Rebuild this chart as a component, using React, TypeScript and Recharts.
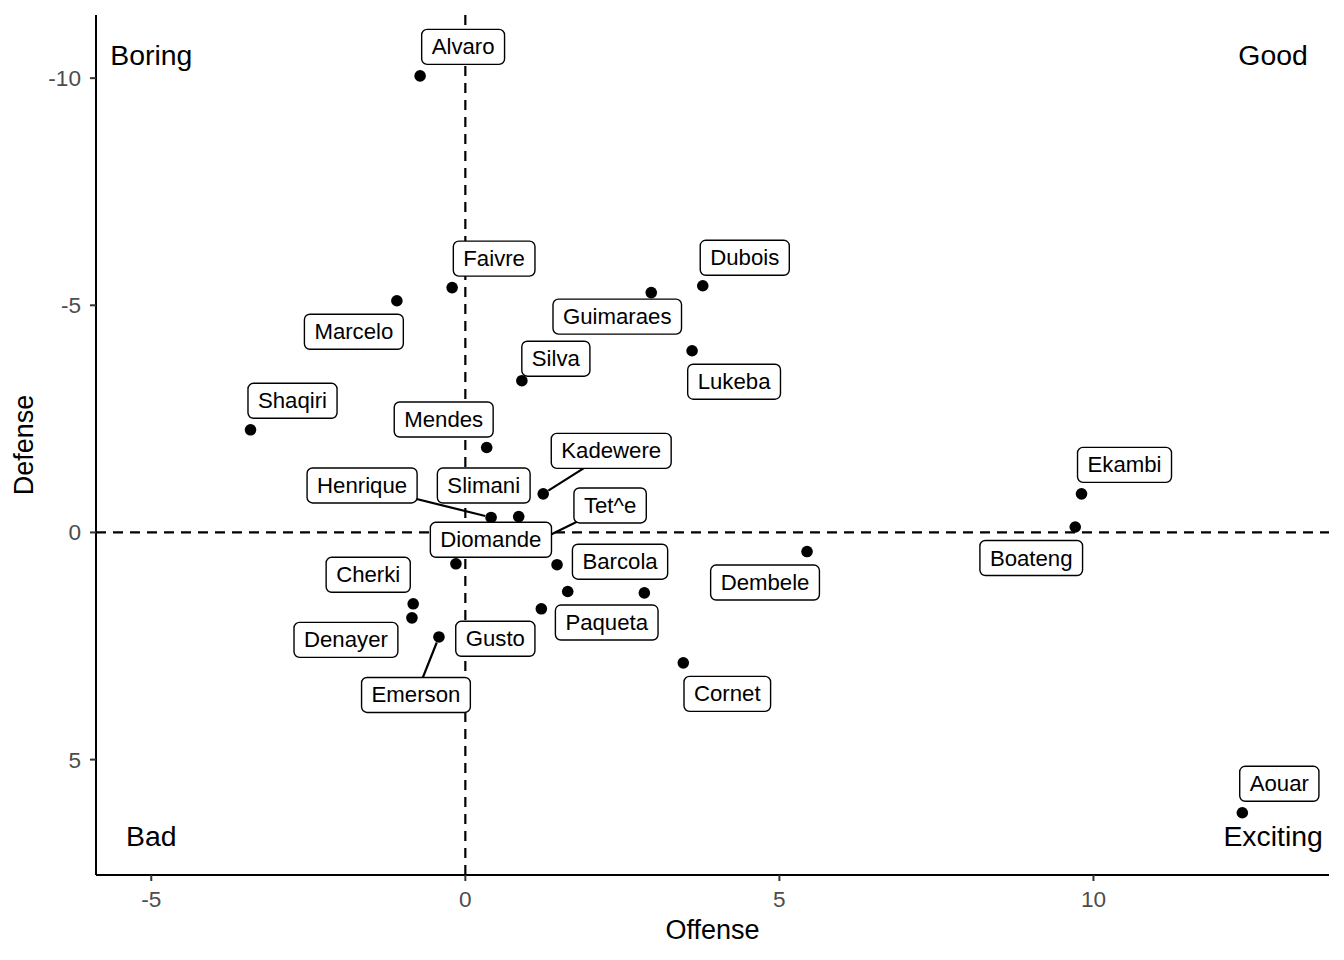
import React from "react";
import { ScatterChart, Scatter, XAxis, YAxis, ReferenceLine } from "recharts";

// players ("" = point whose label was dropped)
const players = [
  "Alvaro", "Faivre", "Marcelo", "Dubois", "Guimaraes", "Lukeba", "Silva",
  "Shaqiri", "Mendes", "Kadewere", "Henrique", "Slimani", "Tet^e", "Diomande",
  "Barcola", "Paqueta", "", "Gusto", "Cherki", "Denayer", "Emerson", "Cornet",
  "Dembele", "Ekambi", "Boateng", "Aouar",
];
const offense = [
  -0.72, -0.21, -1.09, 3.78, 2.96, 3.61, 0.9,
  -3.42, 0.34, 1.24, 0.41, 0.85, 1.27, -0.15,
  1.46, 1.63, 2.85, 1.21, -0.83, -0.85, -0.42, 3.47,
  5.44, 9.81, 9.71, 12.37,
];
const defense = [
  -10.05, -5.39, -5.1, -5.43, -5.28, -4.0, -3.34,
  -2.26, -1.87, -0.85, -0.33, -0.35, 0.11, 0.69,
  0.71, 1.3, 1.33, 1.68, 1.57, 1.88, 2.3, 2.87,
  0.42, -0.85, -0.12, 6.17,
];

// repelled label placement (pixels from the point) and whether a leader segment is drawn
const labelDx = [43, 42, -43, 42, -34, 42, 34, 42, -43, 68, -129, -35, 65, 35, 63, 39, 0, -46, -45, -66, -23, 44, -42, 43, -44, 37];
const labelDy = [-29, -29, 31, -28, 24, 31, -22, -29, -28, -43, -32, -31, -32, -24, -3, 31, 0, 30, -29, 22, 58, 31, 31, -29, 31, -29];
const segment = [0, 0, 0, 0, 0, 0, 0, 0, 0, 1, 1, 0, 1, 0, 0, 0, 0, 0, 0, 0, 1, 0, 0, 0, 0, 0];

const quadrants = ["Boring", "Good", "Bad", "Exciting"];
const quadX = [-5, 12.86, -5, 12.86];
const quadY = [-10.5, -10.5, 6.68, 6.68];

const xTicks = [-5, 0, 5, 10];
const yTicks = [-10, -5, 0, 5];

const FONT = "'Liberation Sans', Arial, Helvetica, sans-serif";
const LABEL_SIZE = 22.2;

const data = players.map((name, i) => ({
  name,
  x: offense[i],
  y: defense[i],
  dx: labelDx[i],
  dy: labelDy[i],
  seg: segment[i] === 1,
}));
const quadData = quadrants.map((text, i) => ({ text, x: quadX[i], y: quadY[i] }));

let ctx: CanvasRenderingContext2D | null = null;
function measure(s: string) {
  if (!ctx) ctx = document.createElement("canvas").getContext("2d");
  if (!ctx) return s.length * 11;
  ctx.font = `${LABEL_SIZE}px ${FONT}`;
  return ctx.measureText(s).width;
}

const Dot = (props: any) => <circle cx={props.cx} cy={props.cy} r={5.8} fill="#000" />;

const Segment = (props: any) => {
  const { cx, cy, payload } = props;
  if (!payload.name || !payload.seg) return <g />;
  const len = Math.hypot(payload.dx, payload.dy);
  const ux = payload.dx / len;
  const uy = payload.dy / len;
  return (
    <line
      x1={cx + ux * 6}
      y1={cy + uy * 6}
      x2={cx + payload.dx}
      y2={cy + payload.dy}
      stroke="#000"
      strokeWidth={2.2}
    />
  );
};

const Label = (props: any) => {
  const { cx, cy, payload } = props;
  if (!payload.name) return <g />;
  const lx = cx + payload.dx;
  const ly = cy + payload.dy;
  const w = measure(payload.name) + 20;
  const h = 35;
  return (
    <g>
      <rect x={lx - w / 2} y={ly - h / 2} width={w} height={h} rx={5.5} fill="#fff" stroke="#000" strokeWidth={1.4} />
      <text x={lx} y={ly} textAnchor="middle" dominantBaseline="central" fontSize={LABEL_SIZE} fontFamily={FONT} fill="#000">
        {payload.name}
      </text>
    </g>
  );
};

const Quadrant = (props: any) => (
  <text x={props.cx} y={props.cy} textAnchor="middle" dominantBaseline="central" fontSize={28.4} fontFamily={FONT} fill="#000">
    {props.payload.text}
  </text>
);

const tickStyle = { fill: "#4D4D4D", fontSize: 22.6, fontFamily: FONT };

export default function App() {
  return (
    <div style={{ position: "absolute", left: 0, top: 0, width: 1344, height: 960, background: "#fff" }}>
      <ScatterChart width={1344} height={960} margin={{ top: 15, right: 15, bottom: 0, left: 0 }}>
        <XAxis
          type="number"
          dataKey="x"
          domain={[-5.88, 13.75]}
          ticks={xTicks}
          allowDataOverflow
          height={85}
          tickSize={6}
          tickMargin={10}
          tick={tickStyle}
          axisLine={{ stroke: "#000", strokeWidth: 2 }}
          tickLine={{ stroke: "#333", strokeWidth: 2 }}
          label={(p: any) => {
            const vb = p.viewBox;
            return (
              <text x={vb.x + vb.width / 2} y={939} textAnchor="middle" fontSize={27} fontFamily={FONT} fill="#000">
                Offense
              </text>
            );
          }}
        />
        <YAxis
          type="number"
          dataKey="y"
          reversed
          domain={[-11.39, 7.54]}
          ticks={yTicks}
          allowDataOverflow
          width={96}
          tickSize={6}
          tickMargin={9}
          tick={tickStyle}
          axisLine={{ stroke: "#000", strokeWidth: 2 }}
          tickLine={{ stroke: "#333", strokeWidth: 2 }}
          label={(p: any) => {
            const vb = p.viewBox;
            const cy = vb.y + vb.height / 2;
            return (
              <text x={33} y={cy} transform={`rotate(-90, 33, ${cy})`} textAnchor="middle" fontSize={27} fontFamily={FONT} fill="#000">
                Defense
              </text>
            );
          }}
        />
        <ReferenceLine x={0} stroke="#000" strokeWidth={2.2} strokeDasharray="10 7" />
        <ReferenceLine y={0} stroke="#000" strokeWidth={2.2} strokeDasharray="10 7" />
        <Scatter data={quadData} shape={Quadrant} isAnimationActive={false} />
        <Scatter data={data} shape={Dot} isAnimationActive={false} />
        <Scatter data={data} shape={Segment} isAnimationActive={false} />
        <Scatter data={data} shape={Label} isAnimationActive={false} />
      </ScatterChart>
    </div>
  );
}
